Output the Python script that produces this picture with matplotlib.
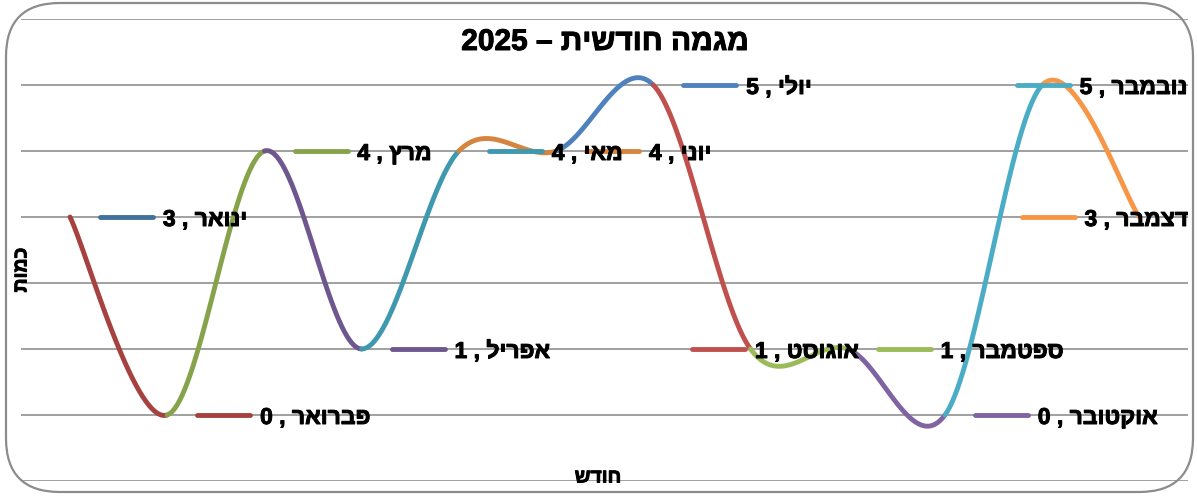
import numpy as np
import matplotlib.pyplot as plt
import matplotlib.patheffects as pe
from matplotlib.patches import FancyBboxPatch

plt.rcParams['font.family'] = ['Liberation Sans', 'DejaVu Sans']

months = ["ינואר", "פברואר", "מרץ", "אפריל", "מאי", "יוני",
          "יולי", "אוגוסט", "ספטמבר", "אוקטובר", "נובמבר", "דצמבר"]
counts = [3, 0, 4, 1, 4, 4, 5, 1, 1, 0, 5, 3]
point_colors = ["#41719C", "#A5423F", "#86A34B", "#6E578F", "#3E98AE", "#D6843E",
                "#4F81BD", "#C0504D", "#9BBB59", "#8064A2", "#4BACC6", "#F79646"]
title = "מגמה חודשית – 2025"
x_title = "חודש"
y_title = "כמות"

# where each label's key starts, relative to its point (category units)
label_dx = [0.31, 0.31, 0.31, 0.31, 0.31, 0.31, 0.31, -0.60, 0.31, 0.31, -0.26, -1.21]

heavy = [pe.withStroke(linewidth=0.7, foreground="black")]


def visual(s):
    # matplotlib has no bidi support: lay Hebrew out right-to-left by hand
    if " – " in s:
        heb, num = s.split(" – ")
        return num + " – " + heb[::-1]
    return s[::-1]


def smooth(xs, ys, n=40):
    # Bezier smoothing through every point, as office charts draw it
    pts = np.column_stack([xs, ys]).astype(float)
    segs = []
    for i in range(len(pts) - 1):
        p0 = pts[max(i - 1, 0)]
        p1, p2 = pts[i], pts[i + 1]
        p3 = pts[min(i + 2, len(pts) - 1)]
        c1 = p1 + (p2 - p0) / 6
        c2 = p2 - (p3 - p1) / 6
        t = np.linspace(0, 1, n)[:, None]
        b = ((1 - t) ** 3) * p1 + 3 * ((1 - t) ** 2) * t * c1 + 3 * (1 - t) * t ** 2 * c2 + t ** 3 * p2
        segs.append(b)
    return segs


fig = plt.figure(figsize=(11.97, 4.97), dpi=100)
ax = fig.add_axes([21.4 / 1197, 16 / 497, (1188 - 21.4) / 1197, (481 - 19) / 497])

x = np.arange(len(months))
ax.set_xlim(-0.5, 11.5)
ax.set_ylim(-1, 6)
for g in range(-1, 7):
    ax.axhline(g, color="#868686", lw=1.1, zorder=1)

lw = 3.5
for i, seg in enumerate(smooth(x, counts)):
    ax.plot(seg[:, 0], seg[:, 1], color=point_colors[i + 1], lw=lw,
            solid_capstyle="round", zorder=3)

key_len = 0.545
for i, (m, v) in enumerate(zip(months, counts)):
    x0 = x[i] + label_dx[i]
    ax.plot([x0, x0 + key_len], [v, v], color=point_colors[i], lw=lw,
            solid_capstyle="round", zorder=4)
    ax.text(x0 + key_len + 0.1, v, f"{v} , " + visual(m), fontsize=16.5,
            fontweight="bold", ha="left", va="center_baseline", zorder=5,
            path_effects=heavy)

ax.set_xticks([])
ax.set_yticks([])
for s in ax.spines.values():
    s.set_visible(False)
ax.patch.set_alpha(0)

fig.text(605 / 1197, 1 - 42 / 497, visual(title), fontsize=21.5, fontweight="bold",
         ha="center", va="center", path_effects=heavy)
fig.text(598 / 1197, 1 - 478 / 497, visual(x_title), fontsize=14,
         fontweight="bold", ha="center", va="center", path_effects=heavy)
fig.text(22 / 1197, 1 - 270 / 497, visual(y_title), fontsize=14,
         fontweight="bold", ha="center", va="center", rotation=90,
         path_effects=heavy)

frame = FancyBboxPatch((6 / 1197, 5 / 497), 1187 / 1197, 489 / 497,
                       boxstyle="round,pad=0,rounding_size=0.045",
                       transform=fig.transFigure, facecolor="none",
                       edgecolor="#8c8c8c", lw=1.6, mutation_aspect=2.4)
fig.patches.append(frame)

fig.savefig("out.png", dpi=100)
